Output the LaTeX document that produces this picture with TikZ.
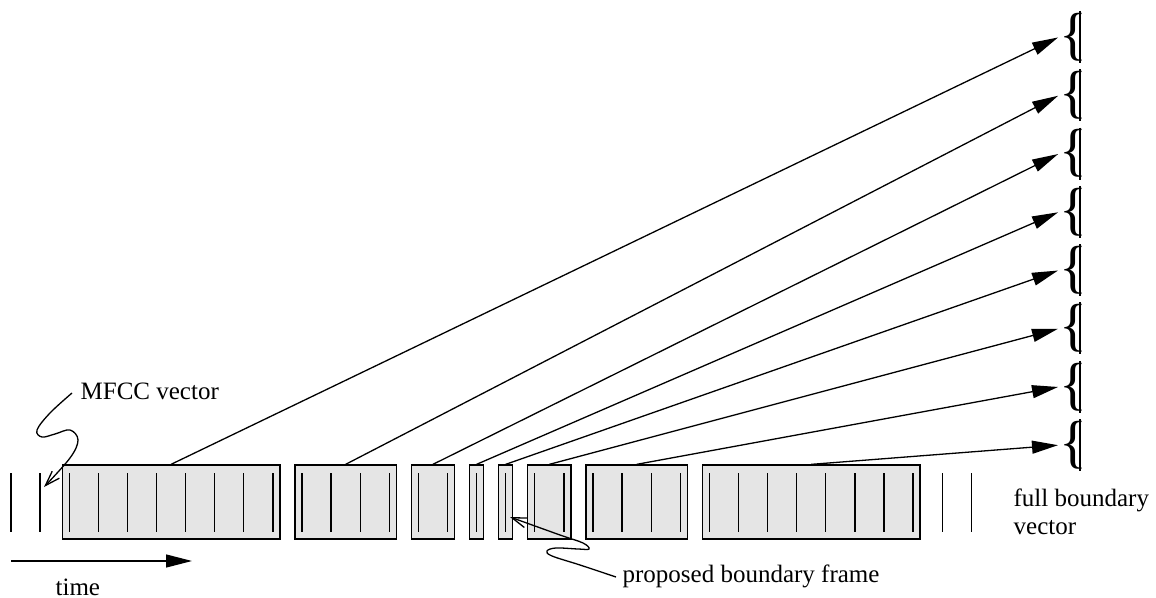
\documentclass[tikz,border=0pt]{standalone}
\usepackage{fontspec}
\setmainfont{Liberation Serif}
\usetikzlibrary{arrows.meta}
\begin{document}
\begin{tikzpicture}[x=0.5pt,y=-0.5pt, line width=0.65pt,
  frame/.style={draw, fill=black!10, inner sep=0, minimum height=37pt},
  lbl/.style={inner sep=0, font=\fontsize{12.5}{14}\selectfont},
  bracesym/.style={inner sep=0, anchor=west, font=\fontsize{29}{29}\selectfont},
  big/.style={-{Triangle[length=13pt,width=6.5pt]}},
  barb/.style={-{Straight Barb[length=7.5pt,width=5pt]}}]
\useasboundingbox (0,0) rectangle (1156,598);
% boxes (groups of frames)
\foreach \i/\a/\b in {1/2/9, 2/10/13, 3/14/15, 4/16/16, 5/17/17, 6/18/19, 7/20/23, 8/24/31} {
  \pgfmathsetmacro\xl{11+29.1*\a-7}
  \pgfmathsetmacro\xr{11+29.1*\b+7}
  \pgfmathsetmacro\w{(\xr-\xl)*0.5}
  \pgfmathsetmacro\xc{(\xl+\xr)/2}
  \node[frame, minimum width=\w pt] (b\i) at (\xc,502) {};
}
% MFCC vectors
\foreach \k in {0,...,33} {
  \pgfmathsetmacro\xx{11+29.1*\k}
  \draw (\xx,473) -- (\xx,532);
}
% braces and arrows
\foreach \k in {1,...,8} {
  \pgfmathsetmacro\ty{37+58.3*(\k-1)}
  \node[bracesym] (br\k) at (1059,\ty) {\{};
  \draw (1080,\ty-26) -- (1080,\ty+26);
  \draw[big, shorten >=0.5pt] (b\k.north) -- (br\k.west);
}
% labels
\node[lbl, anchor=base west] (mfcc) at (80,400) {MFCC vector};
\draw[barb] plot[smooth, tension=0.6] coordinates {(72,393) (50,413) (37,430) (42,437) (55,434) (70,430) (78,440) (70,458) (44,487)};
\coordinate (t0) at (11,561);
\coordinate (t1) at (192,561);
\draw[big] (t0) -- (t1);
\node[lbl, anchor=base west] (time) at (55,595) {time};
\node[lbl, anchor=north west, align=left] (fbv) at (1013,488) {full boundary\\vector};
\node[lbl, anchor=base west] (pbf) at (622,582) {proposed boundary frame};
\draw[barb] plot[smooth, tension=0.6] coordinates {(616,577) (580,565) (552,556) (547,551) (556,548) (578,549) (589,549) (583,543) (560,535) (510,517)};
\end{tikzpicture}
\end{document}
